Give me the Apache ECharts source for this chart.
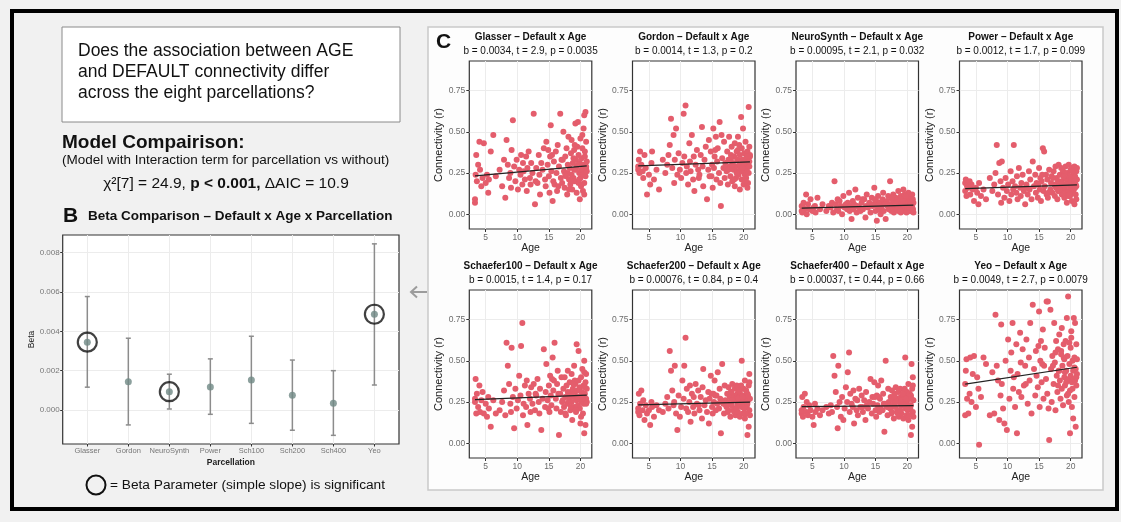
<!DOCTYPE html>
<html>
<head>
<meta charset="utf-8">
<script src="https://cdn.jsdelivr.net/npm/echarts@6/dist/echarts.min.js"></script>
<style>
  html, body { margin: 0; padding: 0; background: #f1f1f1; }
  #chart { width: 1121px; height: 522px; }
</style>
</head>
<body>
<div id="chart"></div>
<script>
// same subjects in every parcellation panel
const ages = [
  3.3, 3.3, 3.4, 3.5, 3.6, 3.8, 4.0, 4.1, 4.3, 4.5,
  4.7, 5.0, 5.2, 5.4, 5.5, 5.8, 6.2, 6.6, 7.2, 7.6,
  7.9, 8.1, 8.3, 8.5, 8.7, 8.9, 9.0, 9.1, 9.3, 9.5,
  9.7, 9.9, 10.1, 10.3, 10.5, 10.6, 10.8, 10.9, 11.0, 11.2,
  11.4, 11.5, 11.6, 11.8, 12.0, 12.1, 12.2, 12.4, 12.6, 12.8,
  13.0, 13.2, 13.4, 13.5, 13.6, 13.8, 14.0, 14.2, 14.4, 14.5,
  14.6, 14.8, 15.0, 15.1, 15.2, 15.3, 15.4, 15.6, 15.7, 15.8,
  15.9, 16.1, 16.2, 16.3, 16.4, 16.6, 16.8, 16.9, 17.0, 17.1,
  17.3, 17.4, 17.5, 17.6, 17.7, 17.8, 17.9, 18.0, 18.1, 18.2,
  18.3, 18.4, 18.5, 18.6, 18.6, 18.7, 18.8, 18.9, 19.0, 19.0,
  19.1, 19.2, 19.3, 19.4, 19.4, 19.5, 19.6, 19.7, 19.7, 19.8,
  19.9, 19.9, 20.0, 20.0, 20.1, 20.2, 20.2, 20.3, 20.4, 20.4,
  20.5, 20.5, 20.6, 20.6, 20.7, 20.8, 20.8, 20.9, 20.9, 21.0,
  17.2, 18.0, 18.5, 19.1, 19.6, 20.1, 20.7, 21.0, 16.5, 14.9,
  18.2, 18.9, 19.3, 19.8, 20.3, 20.6, 20.9, 17.6, 15.5, 12.9
];

const glasser = [
  .07, .09, .24, .36, .20, .30, .44, .27, .17, .22,
  .43, .19, .24, .13, .21, .38, .48, .23, .27, .17,
  .33, .10, .45, .30, .22, .25, .16, .39, .57, .29,
  .20, .33, .15, .27, .24, .36, .18, .31, .26, .21,
  .35, .14, .28, .38, .22, .18, .31, .25, .61, .06,
  .28, .19, .36, .24, .12, .31, .27, .40, .21, .17,
  .44, .30, .23, .13, .35, .54, .26, .08, .20, .32,
  .18, .38, .25, .14, .42, .29, .61, .22, .33, .19,
  .50, .26, .16, .35, .23, .40, .12, .30, .47, .21,
  .28, .18, .37, .24, .45, .15, .31, .22, .39, .27,
  .20, .55, .33, .13, .29, .41, .56, .19, .36, .25,
  .09, .31, .22, .46, .17, .34, .27, .40, .14, .24,
  .30, .52, .60, .19, .35, .62, .23, .28, .44, .32,
  .33, .25, .20, .42, .30, .18, .38, .26, .17, .39,
  .15, .34, .27, .21, .48, .12, .29, .24, .36, .20
];
const gordon = [
  .27, .29, .33, .25, .38, .30, .26, .22, .36, .28,
  .12, .24, .18, .31, .38, .21, .27, .15, .33, .25,
  .30, .36, .42, .58, .28, .48, .19, .33, .52, .24,
  .37, .27, .22, .31, .61, .35, .66, .25, .29, .18,
  .43, .32, .26, .48, .21, .35, .14, .30, .39, .27,
  .24, .36, .53, .29, .17, .33, .41, .09, .27, .45,
  .23, .38, .30, .16, .52, .28, .35, .47, .21, .32,
  .40, .25, .56, .19, .05, .34, .28, .44, .22, .31,
  .26, .38, .18, .33, .47, .29, .23, .36, .41, .20,
  .31, .27, .35, .17, .43, .29, .22, .38, .26, .33,
  .47, .24, .30, .15, .36, .28, .59, .40, .21, .33,
  .26, .52, .31, .18, .37, .24, .29, .44, .34, .22,
  .30, .27, .38, .16, .33, .65, .25, .41, .29, .35,
  .28, .34, .21, .39, .26, .31, .19, .36, .48, .23,
  .30, .25, .42, .28, .20, .35, .32, .27, .39, .22
];
const neurosynth = [
  .02, .05, .01, .04, .07, .03, .12, .00, .06, .03,
  .09, .02, .04, .05, .01, .10, .03, .06, .02, .05,
  .04, .07, .01, .20, .06, .03, .09, .02, .08, .05,
  .00, .11, .04, .06, .03, .07, .13, .02, .05, -.03,
  .08, .03, .06, .15, .01, .05, .10, .04, .02, .07,
  .03, .09, -.02, .05, .12, .04, .07, .01, .10, .05,
  .06, .16, .02, .08, -.04, .05, .11, .03, .07, .00,
  .04, .09, .13, .02, .06, -.03, .08, .05, .11, .03,
  .20, .06, .02, .09, .04, .12, .01, .07, .05, .10,
  .03, .08, .06, .14, .02, .05, .09, .04, .11, .01,
  .07, .03, .06, .15, .05, .02, .10, .08, .04, .12,
  .06, .01, .09, .04, .07, .13, .03, .05, .10, .02,
  .08, .04, .11, .06, .02, .12, .05, .09, .03, .07,
  .05, .10, .03, .07, .12, .04, .08, .01, .06, .09,
  .06, .02, .08, .11, .04, .07, .03, .10, .05, .09
];
const power = [
  .19, .14, .21, .11, .17, .16, .20, .12, .18, .15,
  .08, .16, .13, .06, .19, .11, .15, .09, .22, .14,
  .18, .25, .42, .12, .31, .20, .07, .32, .16, .10,
  .22, .14, .18, .08, .26, .12, .20, .15, .42, .17,
  .13, .23, .09, .28, .16, .11, .19, .24, .14, .06,
  .18, .12, .26, .15, .21, .09, .32, .17, .24, .13,
  .19, .10, .28, .15, .22, .08, .20, .40, .14, .38,
  .17, .24, .12, .21, .10, .27, .15, .19, .23, .13,
  .26, .18, .11, .29, .16, .22, .09, .20, .30, .14,
  .24, .17, .28, .12, .20, .15, .26, .18, .10, .22,
  .16, .29, .13, .21, .07, .25, .18, .30, .14, .23,
  .19, .11, .27, .16, .22, .08, .28, .17, .24, .13,
  .20, .15, .29, .06, .23, .18, .12, .26, .17, .21,
  .22, .14, .19, .25, .11, .20, .16, .28, .13, .18,
  .15, .23, .18, .12, .26, .20, .09, .17, .24, .16
];
const schaefer100 = [
  .27, .25, .39, .18, .30, .22, .35, .19, .26, .31,
  .18, .24, .16, .28, .21, .10, .26, .18, .20, .25,
  .32, .17, .61, .47, .36, .24, .19, .58, .28, .09,
  .33, .21, .26, .41, .29, .59, .73, .17, .24, .35,
  .22, .38, .11, .30, .27, .19, .34, .24, .36, .20,
  .29, .39, .25, .18, .33, .08, .27, .57, .22, .31,
  .48, .26, .35, .19, .41, .29, .23, .52, .32, .38,
  .61, .27, .21, .36, .44, .05, .30, .19, .40, .25,
  .33, .22, .40, .28, .17, .35, .24, .44, .30, .26,
  .37, .20, .31, .42, .25, .14, .33, .28, .47, .22,
  .30, .36, .19, .26, .60, .32, .23, .38, .56, .27,
  .21, .34, .28, .12, .40, .25, .31, .45, .18, .29,
  .35, .24, .06, .50, .30, .11, .37, .27, .42, .33,
  .26, .31, .22, .38, .28, .16, .34, .25, .30, .21,
  .29, .36, .20, .32, .27, .43, .24, .18, .39, .30
];
const schaefer200 = [
  .19, .21, .30, .17, .24, .32, .20, .26, .14, .23,
  .18, .20, .11, .25, .22, .16, .23, .20, .19, .24,
  .28, .21, .56, .44, .32, .23, .25, .47, .18, .08,
  .29, .16, .22, .38, .27, .47, .64, .21, .33, .19,
  .25, .35, .13, .30, .22, .28, .18, .36, .24, .32,
  .20, .28, .15, .34, .45, .23, .26, .19, .31, .12,
  .27, .41, .22, .18, .30, .25, .38, .20, .29, .24,
  .43, .21, .33, .27, .06, .48, .24, .18, .35, .26,
  .22, .30, .19, .34, .25, .28, .16, .31, .23, .36,
  .26, .20, .29, .33, .21, .17, .27, .35, .24, .30,
  .19, .28, .24, .31, .16, .26, .35, .50, .22, .29,
  .25, .18, .33, .27, .21, .38, .15, .29, .24, .32,
  .28, .22, .05, .30, .26, .10, .35, .20, .42, .27,
  .23, .31, .19, .27, .34, .22, .29, .17, .25, .30,
  .26, .21, .32, .28, .18, .24, .37, .20, .29, .23
];
const schaefer400 = [
  .18, .20, .28, .16, .22, .30, .19, .25, .17, .23,
  .20, .16, .11, .24, .19, .21, .17, .20, .22, .18,
  .23, .19, .53, .41, .31, .22, .09, .47, .25, .16,
  .28, .14, .21, .34, .25, .43, .55, .19, .30, .24,
  .22, .32, .12, .27, .20, .26, .17, .33, .22, .29,
  .19, .26, .14, .31, .23, .21, .25, .39, .18, .28,
  .24, .37, .20, .16, .29, .23, .35, .19, .27, .21,
  .38, .20, .30, .24, .07, .50, .22, .17, .33, .25,
  .21, .28, .18, .32, .23, .26, .15, .30, .22, .34,
  .25, .19, .27, .31, .20, .16, .26, .33, .23, .28,
  .18, .27, .23, .29, .15, .25, .33, .52, .21, .28,
  .24, .17, .31, .26, .20, .36, .14, .28, .23, .30,
  .27, .21, .05, .29, .48, .10, .33, .19, .40, .26,
  .22, .29, .18, .26, .32, .21, .27, .16, .24, .28,
  .25, .20, .30, .27, .17, .23, .35, .19, .28, .22
];
const yeo = [
  .36, .17, .44, .51, .27, .18, .30, .52, .25, .42,
  .53, .22, .40, .33, -.01, .28, .52, .48, .17, .43,
  .18, .78, .47, .38, .14, .29, .72, .36, .21, .12,
  .50, .08, .63, .27, .44, .55, .73, .33, .40, .22,
  .60, .06, .42, .31, .67, .49, .28, .57, .35, .47,
  .63, .24, .52, .38, .73, .18, .84, .45, .29, .56,
  .41, .34, .80, .22, .50, .62, .37, .69, .27, .47,
  .58, .39, .86, .30, .86, .02, .81, .45, .25, .53,
  .36, .73, .49, .20, .62, .41, .31, .57, .44, .66,
  .38, .27, .54, .70, .33, .47, .23, .60, .40, .51,
  .35, .62, .44, .76, .29, .53, .89, .39, .25, .48,
  .32, .06, .58, .41, .68, .37, .22, .50, .44, .15,
  .39, .76, .28, .52, .73, .10, .45, .35, .60, .42,
  .47, .35, .56, .43, .30, .64, .38, .51, .21, .59,
  .44, .52, .37, .61, .33, .46, .40, .55, .48, .36
];

const panelNames = ['Glasser', 'Gordon', 'NeuroSynth', 'Power', 'Schaefer100', 'Schaefer200', 'Schaefer400', 'Yeo'];
const panelStats = [
  'b = 0.0034, t = 2.9, p = 0.0035',
  'b = 0.0014, t = 1.3, p = 0.2',
  'b = 0.00095, t = 2.1, p = 0.032',
  'b = 0.0012, t = 1.7, p = 0.099',
  'b = 0.0015, t = 1.4, p = 0.17',
  'b = 0.00076, t = 0.84, p = 0.4',
  'b = 0.00037, t = 0.44, p = 0.66',
  'b = 0.0049, t = 2.7, p = 0.0079'
];
const panelValues = [glasser, gordon, neurosynth, power, schaefer100, schaefer200, schaefer400, yeo];
// fitted line read at youngest / oldest age
const fitAges = [3.3, 21];
const fitStart = [0.233, 0.293, 0.037, 0.155, 0.265, 0.233, 0.222, 0.359];
const fitEnd = [0.293, 0.318, 0.055, 0.178, 0.292, 0.249, 0.228, 0.461];

const parcels = ['Glasser', 'Gordon', 'NeuroSynth', 'Power', 'Sch100', 'Sch200', 'Sch400', 'Yeo'];
const betas = [0.00345, 0.00144, 0.00093, 0.00117, 0.00153, 0.00075, 0.00034, 0.00487];
const betaLow = [0.00116, -0.00076, 0.00005, -0.00022, -0.00068, -0.00103, -0.00129, 0.00127];
const betaHigh = [0.00577, 0.00365, 0.00182, 0.00260, 0.00375, 0.00254, 0.00200, 0.00845];
const significant = [true, false, true, false, false, false, false, true];

const ageTicks = [5, 10, 15, 20];
const connTicks = [0, 0.25, 0.5, 0.75];
const betaTicks = [0, 0.002, 0.004, 0.006, 0.008];
const parcelTicks = [1, 2, 3, 4, 5, 6, 7, 8];

const FONT = '"Liberation Sans", Arial, Helvetica, sans-serif';
const PINK = '#e45d6c';

const colLeft = [469.3, 632.5, 796, 959.5];
const rowTop = [61, 290];
const panelW = 122.5, panelH = 168;

const grids = [], xAxes = [], yAxes = [], series = [], texts = [];

panelValues.forEach((vals, i) => {
  const left = colLeft[i % 4];
  const top = rowTop[Math.floor(i / 4)];
  grids.push({ left: left, top: top, width: panelW, height: panelH, show: true,
    backgroundColor: '#fff', borderColor: '#333', borderWidth: 1.2 });
  xAxes.push({
    gridIndex: i, type: 'value', min: 2.4, max: 21.8,
    name: 'Age', nameLocation: 'middle', nameGap: 13.5,
    nameTextStyle: { fontSize: 10.5, color: '#222', fontFamily: FONT },
    axisLine: { show: false, onZero: false },
    axisTick: { show: true, length: 3, customValues: ageTicks, lineStyle: { color: '#333' } },
    axisLabel: { customValues: ageTicks, fontSize: 8.5, color: '#6b6b6b', margin: 4, fontFamily: FONT },
    splitLine: { show: true, lineStyle: { color: '#ececec', width: 1 } }
  });
  yAxes.push({
    gridIndex: i, type: 'value', min: -0.09, max: 0.93,
    name: 'Connectivity (r)', nameLocation: 'middle', nameGap: 22,
    nameTextStyle: { fontSize: 11, color: '#222', fontFamily: FONT },
    axisLine: { show: false, onZero: false },
    axisTick: { show: true, length: 3, customValues: connTicks, lineStyle: { color: '#333' } },
    axisLabel: { customValues: connTicks, fontSize: 8.5, color: '#6b6b6b', margin: 4, fontFamily: FONT,
      formatter: v => v.toFixed(2) },
    splitLine: { show: true, lineStyle: { color: '#ececec', width: 1 } }
  });
  series.push({
    type: 'scatter', xAxisIndex: i, yAxisIndex: i, silent: true,
    symbolSize: 6, itemStyle: { color: PINK, opacity: 1 },
    data: ages.map((a, k) => [a, vals[k]])
  });
  series.push({
    type: 'line', xAxisIndex: i, yAxisIndex: i, silent: true, symbol: 'none', z: 3,
    lineStyle: { color: '#222', width: 1.2 },
    data: [[fitAges[0], fitStart[i]], [fitAges[1], fitEnd[i]]]
  });
  const cx = left + panelW / 2;
  texts.push({ type: 'text', z: 10, style: { text: panelNames[i] + ' \u2013 Default x Age', x: cx, y: top - 24,
    align: 'center', verticalAlign: 'middle', fontSize: 10, fontWeight: 'bold', fontFamily: FONT, fill: '#111' } });
  texts.push({ type: 'text', z: 10, style: { text: panelStats[i], x: cx, y: top - 10,
    align: 'center', verticalAlign: 'middle', fontSize: 10, fontFamily: FONT, fill: '#111' } });
});

// beta comparison panel (B)
const bi = 8;
grids.push({ left: 62.7, top: 235, width: 336.3, height: 209, show: true,
  backgroundColor: '#fff', borderColor: '#333', borderWidth: 1.2 });
xAxes.push({
  gridIndex: bi, type: 'value', min: 0.4, max: 8.6,
  name: 'Parcellation', nameLocation: 'middle', nameGap: 14.5,
  nameTextStyle: { fontSize: 8.5, fontWeight: 'bold', color: '#222', fontFamily: FONT },
  axisLine: { show: false, onZero: false },
  axisTick: { show: true, length: 2.5, customValues: parcelTicks, lineStyle: { color: '#333' } },
  axisLabel: { customValues: parcelTicks, fontSize: 7.5, color: '#777', margin: 3, fontFamily: FONT,
    formatter: v => parcels[Math.round(v) - 1] },
  splitLine: { show: true, lineStyle: { color: '#ececec', width: 1 } }
});
yAxes.push({
  gridIndex: bi, type: 'value', min: -0.00173, max: 0.0089,
  name: 'Beta', nameLocation: 'middle', nameGap: 25,
  nameTextStyle: { fontSize: 8.5, color: '#222', fontFamily: FONT },
  axisLine: { show: false, onZero: false },
  axisTick: { show: true, length: 2.5, customValues: betaTicks, lineStyle: { color: '#333' } },
  axisLabel: { customValues: betaTicks, fontSize: 8, color: '#777', margin: 3, fontFamily: FONT,
    formatter: v => v.toFixed(3) },
  splitLine: { show: true, lineStyle: { color: '#ececec', width: 1 } }
});
series.push({
  type: 'custom', xAxisIndex: bi, yAxisIndex: bi, silent: true,
  data: parcels.map((p, k) => [k + 1, betaLow[k], betaHigh[k]]),
  renderItem: (params, api) => {
    const x = api.value(0);
    const lo = api.coord([x, api.value(1)]);
    const hi = api.coord([x, api.value(2)]);
    const cap = 2.5;
    const st = { stroke: '#8c8c8c', lineWidth: 1.5 };
    return { type: 'group', children: [
      { type: 'line', shape: { x1: lo[0], y1: lo[1], x2: hi[0], y2: hi[1] }, style: st },
      { type: 'line', shape: { x1: lo[0] - cap, y1: lo[1], x2: lo[0] + cap, y2: lo[1] }, style: st },
      { type: 'line', shape: { x1: hi[0] - cap, y1: hi[1], x2: hi[0] + cap, y2: hi[1] }, style: st }
    ] };
  }
});
series.push({
  type: 'scatter', xAxisIndex: bi, yAxisIndex: bi, silent: true, z: 3,
  symbolSize: 7, itemStyle: { color: '#6f8884' },
  data: betas.map((b, k) => [k + 1, b])
});
series.push({
  type: 'scatter', xAxisIndex: bi, yAxisIndex: bi, silent: true, z: 4,
  symbolSize: 19, itemStyle: { color: 'rgba(0,0,0,0)', borderColor: '#111', borderWidth: 2.2 },
  data: betas.map((b, k) => [k + 1, b]).filter((d, k) => significant[k])
});

const graphics = [
  { type: 'rect', z: -10, shape: { x: 428, y: 27, width: 675, height: 463 },
    style: { fill: '#fdfdfd', stroke: '#c9c9c9', lineWidth: 1.5 } },
  { type: 'rect', z: -10, shape: { x: 12, y: 11, width: 1105, height: 498 },
    style: { fill: 'none', stroke: '#000', lineWidth: 4 } },
  { type: 'rect', z: -10, shape: { x: 62, y: 27, width: 338, height: 95 },
    style: { fill: '#fff', stroke: '#8a8a8a', lineWidth: 1 } },
  { type: 'text', z: 10, style: {
    text: 'Does the association between AGE\nand DEFAULT connectivity differ\nacross the eight parcellations?',
    x: 78, y: 40.5, lineHeight: 21, fontSize: 17.5, fontFamily: FONT, fill: '#111' } },
  { type: 'text', z: 10, style: { text: 'Model Compairison:', x: 62, y: 143, verticalAlign: 'middle',
    fontSize: 19, fontWeight: 'bold', fontFamily: FONT, fill: '#111' } },
  { type: 'text', z: 10, style: { text: '(Model with Interaction term for parcellation vs without)', x: 62, y: 160.5,
    verticalAlign: 'middle', fontSize: 13.5, fontFamily: FONT, fill: '#111' } },
  { type: 'text', z: 10, style: {
    text: '{n|\u03c7\u00b2[7] = 24.9, }{b|p < 0.001,}{n| \u0394AIC = 10.9}', x: 226, y: 184,
    align: 'center', verticalAlign: 'middle',
    rich: { n: { fontSize: 15.5, fontFamily: FONT, fill: '#111' },
            b: { fontSize: 15.5, fontWeight: 'bold', fontFamily: FONT, fill: '#111' } } } },
  { type: 'text', z: 10, style: { text: 'B', x: 63, y: 216, verticalAlign: 'middle',
    fontSize: 21, fontWeight: 'bold', fontFamily: FONT, fill: '#111' } },
  { type: 'text', z: 10, style: { text: 'Beta Comparison \u2013 Default x Age x Parcellation', x: 88, y: 216,
    verticalAlign: 'middle', fontSize: 13.5, fontWeight: 'bold', fontFamily: FONT, fill: '#111' } },
  { type: 'circle', z: 10, shape: { cx: 96, cy: 485, r: 9.5 },
    style: { fill: 'none', stroke: '#111', lineWidth: 2 } },
  { type: 'text', z: 10, style: { text: '= Beta Parameter (simple slope) is significant', x: 110, y: 485,
    verticalAlign: 'middle', fontSize: 13.7, fontFamily: FONT, fill: '#111' } },
  { type: 'text', z: 10, style: { text: 'C', x: 436, y: 42, verticalAlign: 'middle',
    fontSize: 21, fontWeight: 'bold', fontFamily: FONT, fill: '#111' } },
  { type: 'line', z: 10, shape: { x1: 427, y1: 292, x2: 411, y2: 292 },
    style: { stroke: '#9c9c9c', lineWidth: 2 } },
  { type: 'polyline', z: 10, shape: { points: [[417, 286.5], [411, 292], [417, 297.5]] },
    style: { stroke: '#9c9c9c', lineWidth: 2, fill: 'none' } }
].concat(texts);

const chart = echarts.init(document.getElementById('chart'), null, { renderer: 'canvas' });
chart.setOption({
  animation: false,
  backgroundColor: '#f1f1f1',
  textStyle: { fontFamily: FONT },
  grid: grids,
  xAxis: xAxes,
  yAxis: yAxes,
  series: series,
  graphic: graphics
});
</script>
</body>
</html>
